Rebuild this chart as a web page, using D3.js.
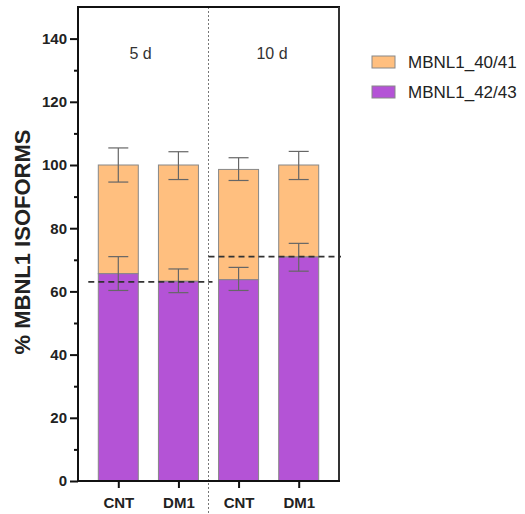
<!DOCTYPE html>
<html>
<head>
<meta charset="utf-8">
<script src="https://cdn.jsdelivr.net/npm/d3@7"></script>
<style>
  body { margin: 0; background: #fff; }
  text { font-family: "Liberation Sans", Arial, sans-serif; }
</style>
</head>
<body>
<div id="chart"></div>
<script>
// data
const categories = ['CNT 5d', 'DM1 5d', 'CNT 10d', 'DM1 10d']
const tickLabels = ['CNT', 'DM1', 'CNT', 'DM1']
const groups = ['5 d', '10 d']
const iso4243 = [65.6, 63.2, 63.7, 70.9]
const iso4243Lo = [60.3, 59.6, 60.3, 66.4]
const iso4243Hi = [71.0, 67.1, 67.6, 75.2]
const total = [100, 100, 98.6, 100]
const totalLo = [94.6, 95.4, 95.1, 95.4]
const totalHi = [105.4, 104.2, 102.3, 104.3]
const refLines = [63.0, 71.0]
const seriesNames = ['MBNL1_40/41', 'MBNL1_42/43']
const colors = ['#FFBF7F', '#B453D6']

const width = 525, height = 514
const plotL = 78, plotR = 339, plotT = 7, plotB = 481

const svg = d3.select('#chart').append('svg')
    .attr('width', width).attr('height', height)

const x = d3.scalePoint().domain(categories).range([plotL, plotR]).padding(0.67)
const y = d3.scaleLinear().domain([0, 150]).range([plotB, plotT])
const barW = 40

// separator between groups
const sepX = (x(categories[1]) + x(categories[2])) / 2
svg.append('line')
    .attr('x1', sepX).attr('x2', sepX).attr('y1', plotT).attr('y2', 514)
    .attr('stroke', '#777').attr('stroke-width', 1).attr('stroke-dasharray', '2,2')

// bars
const bars = svg.append('g')
categories.forEach((c, i) => {
    bars.append('rect')
        .attr('x', x(c) - barW / 2).attr('width', barW)
        .attr('y', y(total[i])).attr('height', y(iso4243[i]) - y(total[i]))
        .attr('fill', colors[0]).attr('stroke', '#888').attr('stroke-width', 1)
    bars.append('rect')
        .attr('x', x(c) - barW / 2).attr('width', barW)
        .attr('y', y(iso4243[i])).attr('height', y(0) - y(iso4243[i]))
        .attr('fill', colors[1]).attr('stroke', '#888').attr('stroke-width', 1)
})

// error bars
const errBar = (cx, lo, hi) => {
    const g = svg.append('g').attr('stroke', '#666').attr('stroke-width', 1.2)
    g.append('line').attr('x1', cx).attr('x2', cx).attr('y1', y(lo)).attr('y2', y(hi))
    g.append('line').attr('x1', cx - 10).attr('x2', cx + 10).attr('y1', y(lo)).attr('y2', y(lo))
    g.append('line').attr('x1', cx - 10).attr('x2', cx + 10).attr('y1', y(hi)).attr('y2', y(hi))
}
categories.forEach((c, i) => {
    errBar(x(c), totalLo[i], totalHi[i])
    errBar(x(c), iso4243Lo[i], iso4243Hi[i])
})

// reference dashed lines
svg.append('line')
    .attr('x1', x(categories[0]) - 30).attr('x2', sepX + 4)
    .attr('y1', y(refLines[0])).attr('y2', y(refLines[0]))
    .attr('stroke', '#333').attr('stroke-width', 1.8).attr('stroke-dasharray', '6,4')
svg.append('line')
    .attr('x1', sepX).attr('x2', plotR + 2)
    .attr('y1', y(refLines[1])).attr('y2', y(refLines[1]))
    .attr('stroke', '#333').attr('stroke-width', 1.8).attr('stroke-dasharray', '6,4')

// frame
svg.append('line').attr('x1', plotL - 1).attr('x2', plotR + 1).attr('y1', plotT).attr('y2', plotT)
    .attr('stroke', '#111').attr('stroke-width', 2)
svg.append('line').attr('x1', plotR).attr('x2', plotR).attr('y1', plotT).attr('y2', plotB)
    .attr('stroke', '#333').attr('stroke-width', 2)

// y axis
const yAxis = svg.append('g').attr('transform', `translate(${plotL},0)`)
    .call(d3.axisLeft(y).tickValues(d3.range(0, 141, 20)).tickSize(8).tickPadding(3))
yAxis.select('.domain').attr('d', `M0,${plotT}V${plotB}`).attr('stroke', '#111').attr('stroke-width', 2)
yAxis.selectAll('.tick line').attr('stroke', '#111').attr('stroke-width', 2)
yAxis.selectAll('.tick text').attr('font-size', 15).attr('font-weight', 'bold').attr('fill', '#222')
    .style('font-family', '"Liberation Sans", Arial, sans-serif')
svg.append('g').attr('transform', `translate(${plotL},0)`)
    .call(d3.axisLeft(y).tickValues(d3.range(10, 150, 20)).tickSize(4).tickFormat(''))
    .call(g => g.select('.domain').remove())
    .selectAll('.tick line').attr('stroke', '#111').attr('stroke-width', 2)

// x axis
const xAxis = svg.append('g').attr('transform', `translate(0,${plotB})`)
    .call(d3.axisBottom(x).tickSize(7).tickPadding(9).tickFormat((d, i) => tickLabels[i]))
xAxis.select('.domain').attr('d', `M${plotL - 1},0H${plotR + 1}`).attr('stroke', '#111').attr('stroke-width', 2)
xAxis.selectAll('.tick line').attr('stroke', '#111').attr('stroke-width', 2)
xAxis.selectAll('.tick text').attr('font-size', 15).attr('font-weight', 'bold').attr('fill', '#222')
    .style('font-family', '"Liberation Sans", Arial, sans-serif')

// y title
svg.append('text')
    .attr('transform', `translate(30,${(plotT + plotB) / 2 - 2}) rotate(-90)`)
    .attr('text-anchor', 'middle')
    .attr('font-size', 22).attr('font-weight', 'bold').attr('fill', '#222')
    .text('% MBNL1 ISOFORMS')

// group labels
const groupX = [140.5, 272]
groups.forEach((g, i) => {
    svg.append('text')
        .attr('x', groupX[i]).attr('y', 59)
        .attr('text-anchor', 'middle')
        .attr('font-size', 16).attr('fill', '#333')
        .text(g)
})

// legend
seriesNames.forEach((s, i) => {
    const ly = 56 + i * 30
    svg.append('rect')
        .attr('x', 372).attr('y', ly).attr('width', 23).attr('height', 12)
        .attr('fill', colors[i]).attr('stroke', '#888').attr('stroke-width', 1)
    svg.append('text')
        .attr('x', 408).attr('y', ly + 6).attr('dy', '0.36em')
        .attr('font-size', 17).attr('fill', '#222')
        .text(s)
})
</script>
</body>
</html>
